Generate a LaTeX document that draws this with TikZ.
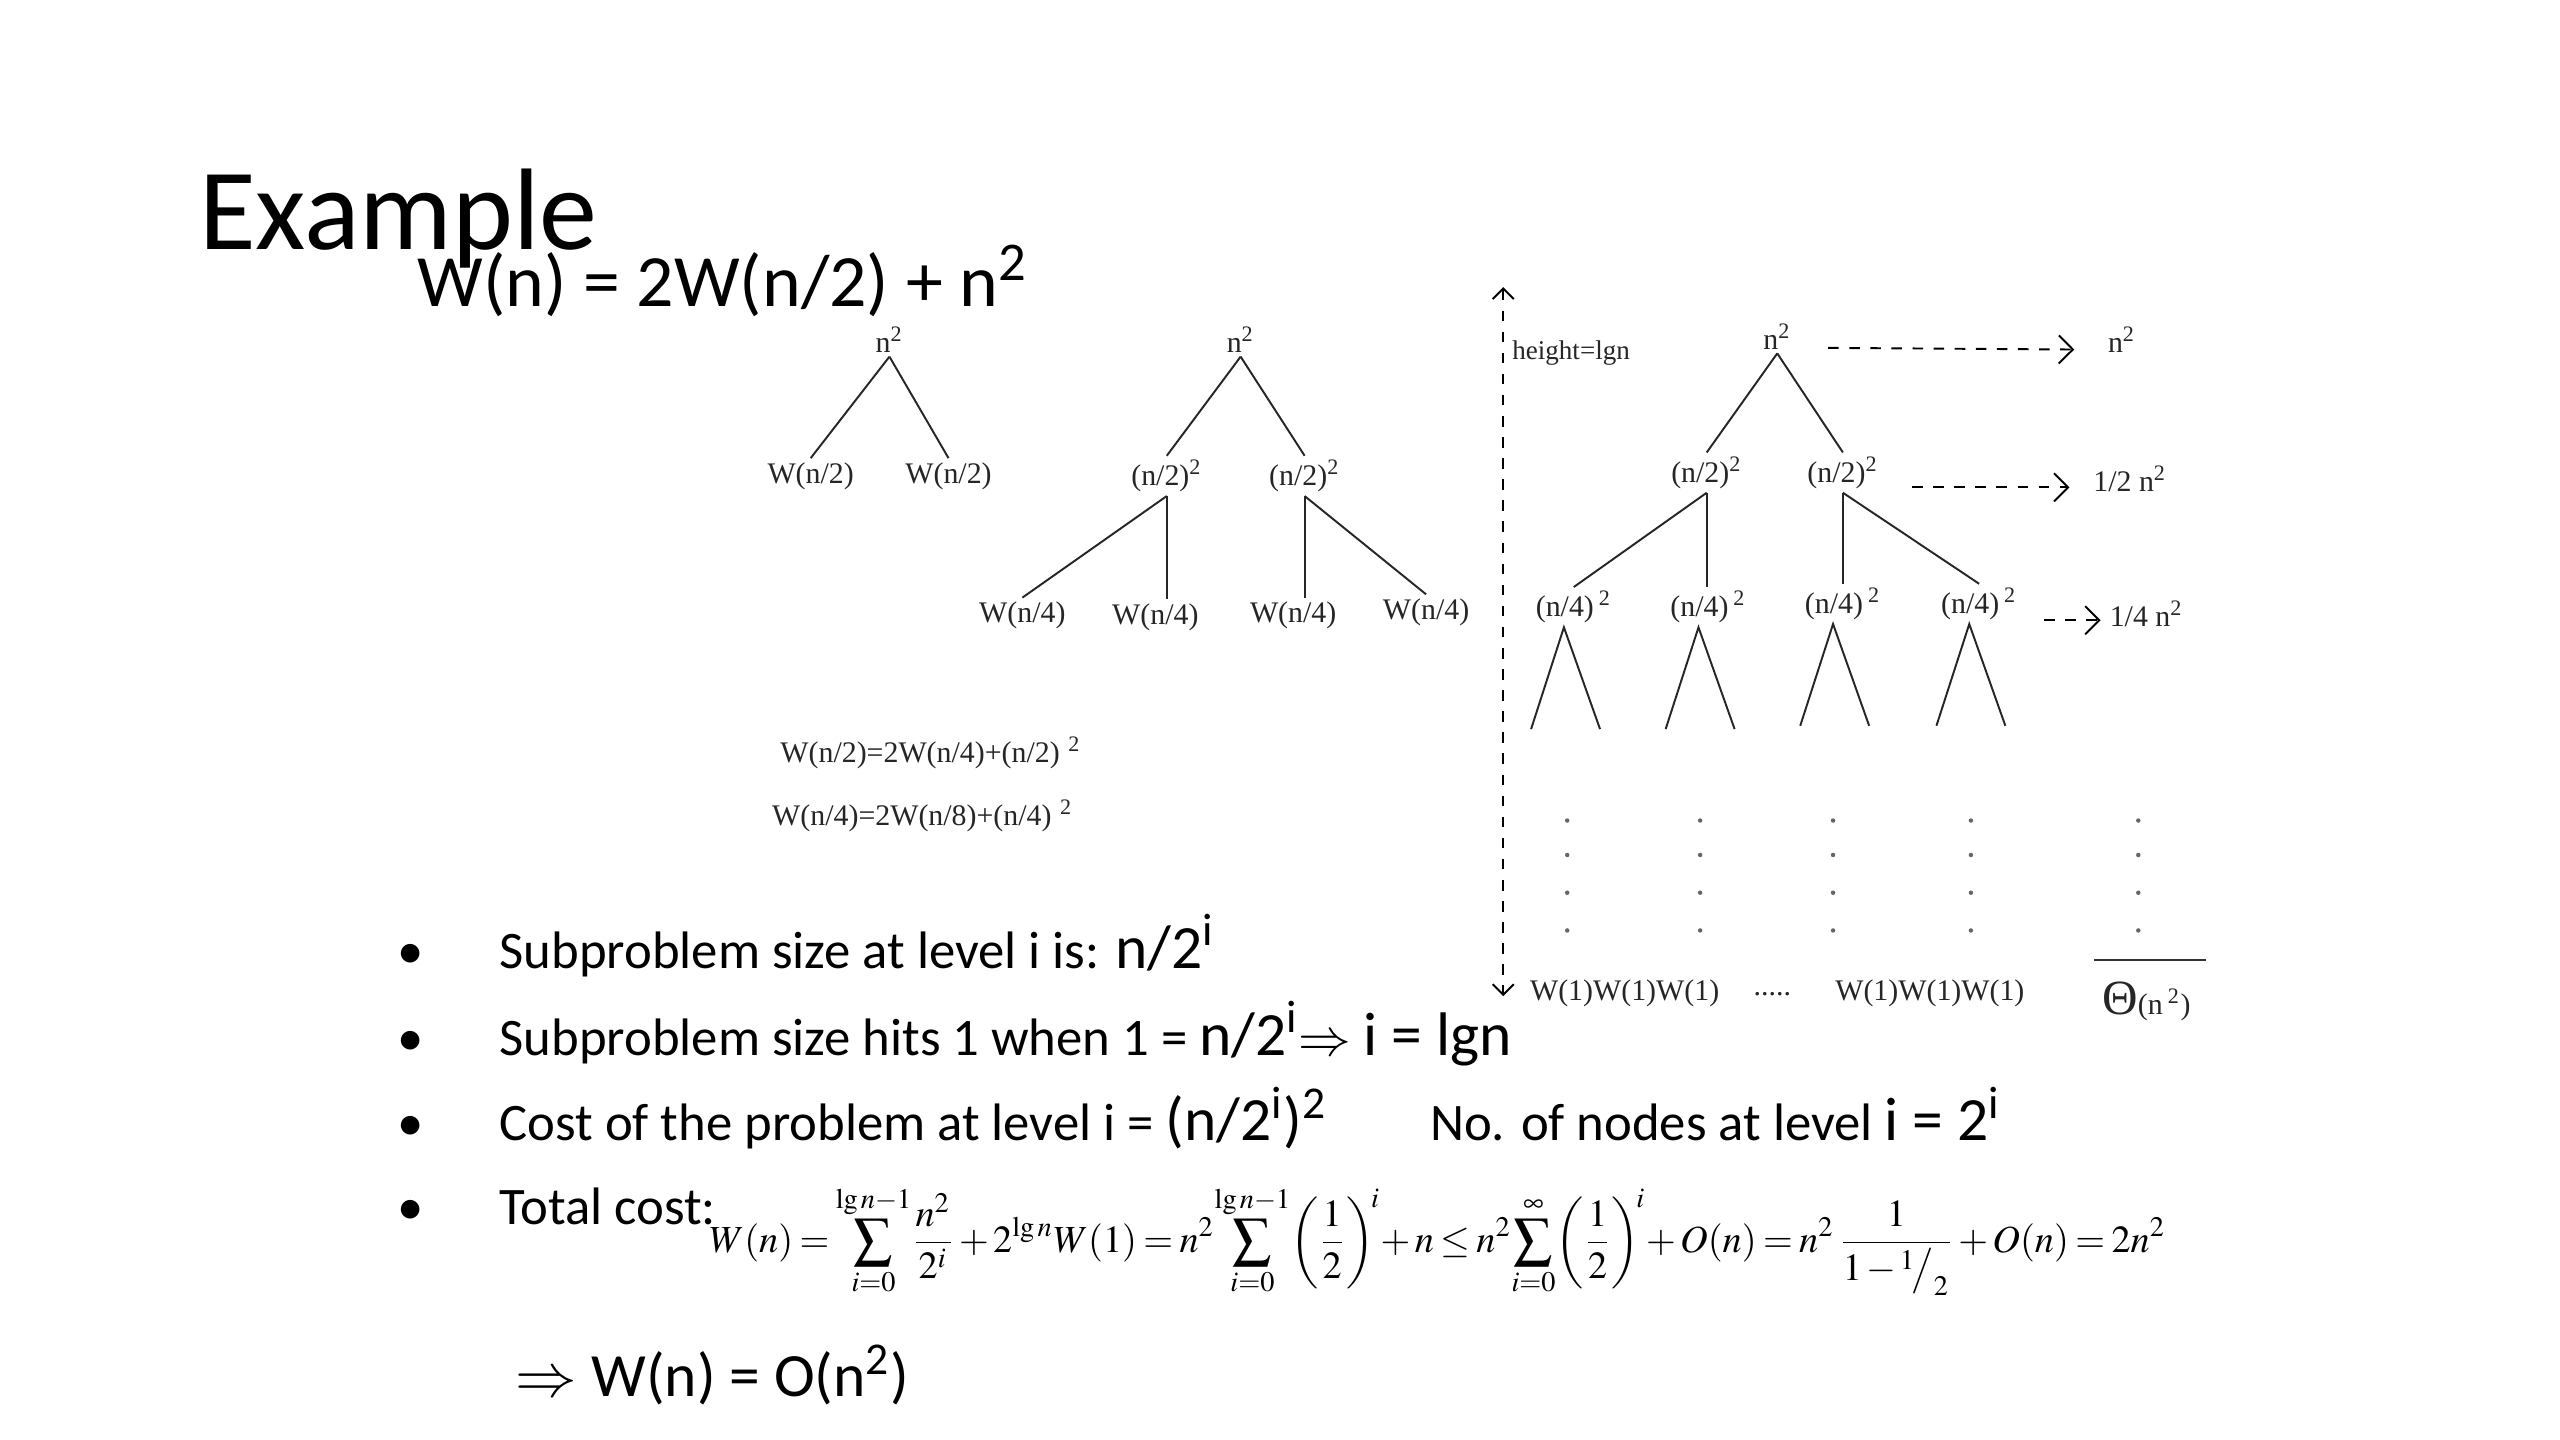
\documentclass[tikz,border=0pt]{standalone}
\usepackage{mathptmx}
\usepackage{fontspec}
\setmainfont{Liberation Serif}
\newfontfamily\slidefont{Carlito}
\usepackage{tikz}
\usetikzlibrary{positioning}
\usetikzlibrary{arrows.meta}
\usetikzlibrary{calc}

\newcommand{\sqtwo}{\textsuperscript{2}}
\newcommand{\hand}{\fontsize{17.5}{20}\selectfont}

\begin{document}
\begin{tikzpicture}[
  x=0.16410mm, y=-0.16410mm,
  font=\fontsize{8.5}{10}\selectfont,
  term/.style={inner sep=1pt, text=black!85},
  edge/.style={line width=0.55pt, black!85},
  costarrow/.style={dashed, line width=0.55pt, -{Straight Barb[length=4pt]}},
  heightarrow/.style={dashed, line width=0.55pt, {Straight Barb[length=3pt]}-{Straight Barb[length=3pt]}},
  dotty/.style={circle, fill=black!60, inner sep=0.45pt},
  slide/.style={anchor=base west, inner sep=0pt, font=\slidefont\fontsize{15}{18}\selectfont}
]
\fill[white] (0,0) rectangle (1560,877.5);
\useasboundingbox (0,0) rectangle (1560,877.5);

% Title and recurrence
\node[slide, font=\slidefont\fontsize{33}{36}\selectfont] (title) at (121,152) {Example};
\node[slide, font=\slidefont\fontsize{21}{24}\selectfont] (recur) at (254,187) {W(n) = 2W(n/2) + n\sqtwo};

% First expansion
\node[term] (r1) at (542,207) {n\sqtwo};
\node[term] (r1a) at (494,290) {W(n/2)};
\node[term] (r1b) at (578,290) {W(n/2)};
\draw[edge] (r1.south) -- (r1a.north);
\draw[edge] (r1.south) -- (r1b.north);

% Second expansion
\node[term] (r2) at (756,207) {n\sqtwo};
\node[term] (r2a) at (711,290) {(n/2)\sqtwo};
\node[term] (r2b) at (795,290) {(n/2)\sqtwo};
\node[term] (r2aa) at (623,375) {W(n/4)};
\node[term] (r2ab) at (704,376) {W(n/4)};
\node[term] (r2ba) at (788,375) {W(n/4)};
\node[term] (r2bb) at (869,373) {W(n/4)};
\draw[edge] (r2.south) -- (r2a.north);
\draw[edge] (r2.south) -- (r2b.north);
\draw[edge] (r2a.south) -- (r2aa.north);
\draw[edge] (r2a.south) -- (r2a.south |- r2ab.north);
\draw[edge] (r2b.south) -- (r2b.south |- r2ba.north);
\draw[edge] (r2b.south) -- (r2bb.north);

% Recurrence for the children
\node[term, anchor=west] (eqa) at (473,459) {W(n/2)=2W(n/4)+(n/2)\,\textsuperscript{\,2}};
\node[term, anchor=west] (eqb) at (468,497) {W(n/4)=2W(n/8)+(n/4)\,\textsuperscript{\,2}};

% Height of the tree
\coordinate (htop) at (916,175);
\coordinate (hbot) at (916,607);
\draw[heightarrow] (htop) -- (hbot);
\node[term, font=\fontsize{7.7}{9}\selectfont, anchor=west] (hlabel) at (919,215) {height=lgn};

% Full recursion tree
\node[term] (r3) at (1083,205) {n\sqtwo};
\node[term] (r3a) at (1040,288) {(n/2)\sqtwo};
\node[term] (r3b) at (1123,288) {(n/2)\sqtwo};
\node[term] (r3aa) at (959,370) {(n/4)\,\sqtwo};
\node[term] (r3ab) at (1041,370) {(n/4)\,\sqtwo};
\node[term] (r3ac) at (1123,368) {(n/4)\,\sqtwo};
\node[term] (r3ad) at (1206,368) {(n/4)\,\sqtwo};
\draw[edge] (r3.south) -- (r3a.north);
\draw[edge] (r3.south) -- (r3b.north);
\draw[edge] (r3a.south) -- (r3aa.north);
\draw[edge] (r3a.south) -- (r3a.south |- r3ab.north);
\draw[edge] (r3b.south) -- (r3b.south |- r3ac.north);
\draw[edge] (r3b.south) -- (r3ad.north);
\foreach \k in {aa,ab,ac,ad} {
  \draw[edge] ($(r3\k.south)+(-26,62)$) -- ($(r3\k.south)+(-6,0)$) -- ($(r3\k.south)+(16,62)$);
}

% Dots down to the leaves
\foreach \x in {955,1036,1117,1201,1303}
  \foreach \y in {500,521,544,567}
    \node[dotty] at (\x,\y) {};

\node[term] (leafl) at (990,605) {W(1)W(1)W(1)};
\node[term] (gap) at (1080,606) {.....};
\node[term] (leafr) at (1176,605) {W(1)W(1)W(1)};

% Cost per level
\node[term] (c0) at (1293,207) {n\sqtwo};
\node[term] (c1) at (1298,292) {1/2 n\sqtwo};
\node[term] (c2) at (1308,374) {1/4 n\sqtwo};
\draw[costarrow] ($(r3.east)+(20,7)$) -- ($(c0.west)+(-18,6)$);
\draw[costarrow] ($(r3b.east)+(18,9)$) -- ($(c1.west)+(-12,5)$);
\draw[costarrow] ($(r3ad.east)+(14,10)$) -- ($(c2.west)+(-3,4)$);

\coordinate (sumL) at (1276,585);
\coordinate (sumR) at (1344,585);
\draw[line width=0.7pt, black!80] (sumL) -- (sumR);
\node[term] (total) at (1308,610) {{\fontsize{14}{14}\selectfont Θ}(n\,\sqtwo)};

% Bullets
\foreach \y in {590,643,695,746}
  \node[slide] at (242,\y) {•};
\node[slide] (b1) at (304,590) {Subproblem size at level i is: {\hand n/2\textsuperscript{i}}};
\node[slide] (b2) at (304,643) {Subproblem size hits 1 when 1 = {\hand n/2\textsuperscript{i}}$\Rightarrow$ {\hand i = lgn}};
\node[slide] (b3) at (304,695) {Cost of the problem at level i = {\hand (n/2\textsuperscript{i})\textsuperscript{2}}};
\node[slide] (b3b) at (871,695) {No. of nodes at level {\hand i = 2\textsuperscript{i}}};
\node[slide] (b4) at (304,746) {Total cost:};
\node[anchor=base west, inner sep=0pt, font=\fontsize{10.9}{13}\selectfont] (sumf) at (432,763)
  {\thinmuskip=2mu\medmuskip=2mu plus 1mu\thickmuskip=3mu plus 1mu
   $\displaystyle W(n)=\sum_{i=0}^{\lg n-1}\!\frac{n^2}{2^i}+2^{\lg n}W(1)=n^2\!\sum_{i=0}^{\lg n-1}\!\left(\frac{1}{2}\right)^{\!i}\!+n\le n^2\!\sum_{i=0}^{\infty}\!\left(\frac{1}{2}\right)^{\!i}\!+O(n)=n^2\,\frac{1}{1-{}^{1}\!\big/_{2}}+O(n)=2n^2$};
\node[slide] (concl) at (314,851) {\hand $\Rightarrow$ W(n) = O(n\textsuperscript{2})};

\end{tikzpicture}
\end{document}
